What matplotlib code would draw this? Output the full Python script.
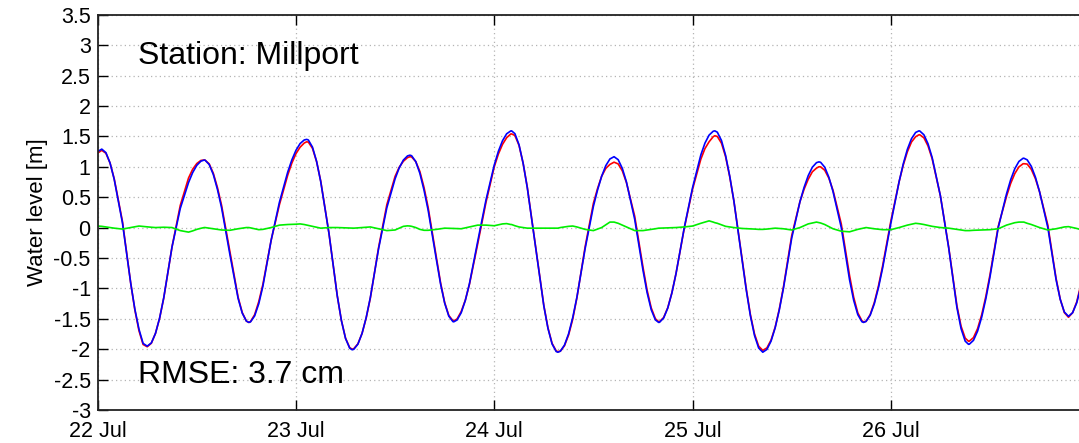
import matplotlib
matplotlib.use("Agg")
import matplotlib.pyplot as plt
from matplotlib.ticker import FuncFormatter

# time in hours from 22 Jul 00:00 (rows grouped by 10 h blocks)
HOURS = [
    0, 0.5, 1, 1.5, 2, 3, 4, 4.5, 5, 5.5, 6, 6.5, 7, 7.5, 8, 9,
    10, 11, 11.5, 12, 12.5, 12.9, 13, 13.5, 14, 14.5, 15, 16, 17, 17.5, 18, 18.3, 18.5, 19, 19.5,
    20, 21, 22, 23, 23.5, 24, 24.5, 25, 25.3, 25.5, 26, 26.5, 27, 28, 29, 29.5,
    30, 30.5, 30.8, 31, 31.5, 32, 32.5, 33, 34, 35, 36, 36.5, 37, 37.5, 37.8, 38, 38.5, 39, 39.5,
    40, 41, 41.5, 42, 42.5, 43, 43.1, 43.5, 44, 44.5, 45, 46, 47, 48, 48.5, 49, 49.5,
    50, 50.1, 50.5, 51, 51.5, 52, 53, 54, 54.5, 55, 55.5, 55.7, 56, 56.5, 57, 57.5, 58, 59,
    60, 60.5, 61, 61.5, 62, 62.5, 63, 63.5, 64, 65, 66, 66.5, 67, 67.5, 67.9, 68, 68.5, 69, 69.5,
    70, 71, 72, 73, 73.5, 74, 74.5, 74.7, 75, 75.5, 76, 76.5, 77, 78, 78.5, 79, 79.5,
    80, 80.5, 81, 81.5, 82, 82.5, 83, 84, 85, 85.5, 86, 86.5, 87, 87.3, 87.5, 88, 88.5, 89,
    90, 91, 91.5, 92, 92.5, 92.7, 93, 93.5, 94, 94.5, 95, 96, 97, 97.5, 98, 98.5, 99, 99.4, 99.5,
    100, 100.5, 101, 102, 103, 104, 104.5, 105, 105.4, 105.5, 106, 106.5, 107, 107.5, 108, 109,
    110, 110.5, 111, 111.5, 112, 112.1, 112.5, 113, 113.5, 114, 115, 116, 116.5, 117, 117.5, 118, 118.5, 119,
]

# model water level (blue), m
MODEL = [
    1.25, 1.29, 1.232, 1.062, 0.795, 0.078, -0.913, -1.340, -1.671, -1.905, -1.95, -1.897, -1.740, -1.488, -1.154, -0.319,
    0.315, 0.740, 0.904, 1.023, 1.092, 1.11, 1.108, 1.037, 0.872, 0.627, 0.325, -0.439, -1.166, -1.407, -1.538, -1.56, -1.551, -1.453, -1.253,
    -0.964, -0.207, 0.416, 0.910, 1.111, 1.270, 1.381, 1.440, 1.45, 1.440, 1.323, 1.088, 0.754, -0.098, -1.122, -1.529,
    -1.823, -1.982, -2.01, -2.002, -1.917, -1.741, -1.481, -1.153, -0.349, 0.326, 0.802, 0.982, 1.110, 1.178, 1.19, 1.181, 1.085, 0.891, 0.615,
    0.285, -0.530, -0.925, -1.243, -1.457, -1.547, -1.55, -1.520, -1.401, -1.198, -0.922, -0.227, 0.454, 1.028, 1.254, 1.428, 1.542,
    1.589, 1.59, 1.544, 1.361, 1.054, 0.654, -0.321, -1.290, -1.658, -1.914, -2.039, -2.05, -2.033, -1.933, -1.746, -1.480, -1.148, -0.346,
    0.349, 0.616, 0.844, 1.018, 1.128, 1.165, 1.116, 0.973, 0.749, 0.135, -0.700, -1.070, -1.351, -1.518, -1.56, -1.558, -1.488, -1.324, -1.075,
    -0.756, 0.0, 0.655, 1.193, 1.388, 1.520, 1.584, 1.59, 1.568, 1.432, 1.186, 0.846, 0.440, -0.531, -1.025, -1.450, -1.775,
    -1.980, -2.05, -2.004, -1.868, -1.648, -1.355, -0.999, -0.174, 0.426, 0.661, 0.854, 0.992, 1.067, 1.08, 1.073, 0.992, 0.827, 0.593,
    0.0, -0.857, -1.195, -1.432, -1.549, -1.56, -1.543, -1.441, -1.253, -0.989, -0.669, 0.071, 0.754, 1.046, 1.286, 1.462, 1.564, 1.59, 1.588,
    1.526, 1.377, 1.151, 0.520, -0.333, -1.318, -1.663, -1.868, -1.92, -1.918, -1.855, -1.703, -1.471, -1.169, -0.811, 0.0,
    0.553, 0.785, 0.967, 1.087, 1.139, 1.14, 1.114, 1.007, 0.828, 0.588, 0.0, -0.858, -1.181, -1.389, -1.46, -1.40, -1.237, -0.97,
]

# observed water level (red), m
OBSERVED = [
    1.225, 1.27, 1.222, 1.062, 0.805, 0.103, -0.913, -1.352, -1.696, -1.923, -1.96, -1.902, -1.740, -1.490, -1.159, -0.319,
    0.365, 0.815, 0.959, 1.053, 1.104, 1.11, 1.108, 1.047, 0.892, 0.657, 0.365, -0.394, -1.146, -1.397, -1.538, -1.56, -1.546, -1.433, -1.218,
    -0.934, -0.207, 0.376, 0.860, 1.059, 1.215, 1.321, 1.390, 1.41, 1.405, 1.303, 1.083, 0.764, -0.098, -1.122, -1.527,
    -1.818, -1.974, -2.00, -1.992, -1.912, -1.741, -1.486, -1.163, -0.329, 0.376, 0.842, 0.992, 1.090, 1.150, 1.165, 1.161, 1.085, 0.921, 0.660,
    0.330, -0.500, -0.905, -1.233, -1.445, -1.532, -1.535, -1.503, -1.381, -1.193, -0.932, -0.267, 0.414, 0.998, 1.209, 1.368, 1.477,
    1.539, 1.54, 1.514, 1.351, 1.054, 0.664, -0.311, -1.280, -1.648, -1.904, -2.029, -2.04, -2.033, -1.943, -1.766, -1.505, -1.158, -0.316,
    0.399, 0.641, 0.844, 0.973, 1.038, 1.075, 1.046, 0.933, 0.739, 0.185, -0.650, -1.030, -1.321, -1.498, -1.55, -1.548, -1.480, -1.319, -1.073,
    -0.756, -0.01, 0.630, 1.123, 1.298, 1.410, 1.494, 1.51, 1.498, 1.387, 1.166, 0.836, 0.440, -0.516, -1.007, -1.430, -1.750,
    -1.950, -2.02, -1.979, -1.850, -1.638, -1.340, -0.979, -0.134, 0.426, 0.631, 0.794, 0.917, 0.977, 1.00, 0.998, 0.942, 0.812, 0.613,
    0.06, -0.787, -1.145, -1.402, -1.534, -1.55, -1.543, -1.431, -1.233, -0.961, -0.634, 0.106, 0.754, 1.026, 1.246, 1.407, 1.494, 1.525, 1.526,
    1.476, 1.342, 1.131, 0.520, -0.323, -1.288, -1.623, -1.818, -1.87, -1.868, -1.810, -1.661, -1.431, -1.131, -0.776, 0.02,
    0.513, 0.725, 0.887, 0.997, 1.049, 1.05, 1.044, 0.957, 0.803, 0.588, 0.04, -0.838, -1.176, -1.399, -1.475, -1.40, -1.222, -0.935,
]

# residual (green), m
RESIDUAL = [
    0.025, 0.02, 0.01, 0.0, -0.01, -0.025, 0.0, 0.012, 0.025, 0.018, 0.01, 0.005, 0.0, 0.002, 0.005, 0.0,
    -0.05, -0.075, -0.055, -0.03, -0.012, 0.0, 0.0, -0.01, -0.02, -0.03, -0.04, -0.045, -0.02, -0.01, 0.0, 0.0, -0.005, -0.02, -0.035,
    -0.03, 0.0, 0.04, 0.05, 0.052, 0.055, 0.06, 0.05, 0.04, 0.035, 0.02, 0.005, -0.01, 0.0, 0.0, -0.002,
    -0.005, -0.008, -0.01, -0.01, -0.005, 0.0, 0.005, 0.01, -0.02, -0.05, -0.04, -0.01, 0.02, 0.028, 0.025, 0.02, 0.0, -0.03, -0.045,
    -0.045, -0.03, -0.02, -0.01, -0.012, -0.015, -0.015, -0.017, -0.02, -0.005, 0.01, 0.04, 0.04, 0.03, 0.045, 0.06, 0.065,
    0.05, 0.05, 0.03, 0.01, 0.0, -0.01, -0.01, -0.01, -0.01, -0.01, -0.01, -0.01, 0.0, 0.01, 0.02, 0.025, 0.01, -0.03,
    -0.05, -0.025, 0.0, 0.045, 0.09, 0.09, 0.07, 0.04, 0.01, -0.05, -0.05, -0.04, -0.03, -0.02, -0.01, -0.01, -0.008, -0.005, -0.002,
    0.0, 0.01, 0.025, 0.07, 0.09, 0.11, 0.09, 0.08, 0.07, 0.045, 0.02, 0.01, 0.0, -0.015, -0.018, -0.02, -0.025,
    -0.03, -0.03, -0.025, -0.018, -0.01, -0.015, -0.02, -0.04, 0.0, 0.03, 0.06, 0.075, 0.09, 0.08, 0.075, 0.05, 0.015, -0.02,
    -0.06, -0.07, -0.05, -0.03, -0.015, -0.01, 0.0, -0.01, -0.02, -0.028, -0.035, -0.035, 0.0, 0.02, 0.04, 0.055, 0.07, 0.065, 0.062,
    0.05, 0.035, 0.02, 0.0, -0.01, -0.03, -0.04, -0.05, -0.05, -0.05, -0.045, -0.042, -0.04, -0.038, -0.035, -0.02,
    0.04, 0.06, 0.08, 0.09, 0.09, 0.09, 0.07, 0.05, 0.025, 0.0, -0.04, -0.02, -0.005, 0.01, 0.015, 0.0, -0.015, -0.035,
]

DAY_LABELS = ["22 Jul", "23 Jul", "24 Jul", "25 Jul", "26 Jul"]
Y_TICKS = [-3, -2.5, -2, -1.5, -1, -0.5, 0, 0.5, 1, 1.5, 2, 2.5, 3, 3.5]

STATION = "Station: Millport"
RMSE_TEXT = "RMSE: 3.7 cm"


def main():
    plt.rcParams["font.family"] = ["Liberation Sans", "DejaVu Sans"]
    plt.rcParams["axes.unicode_minus"] = False

    fig = plt.figure(figsize=(10.79, 4.43), dpi=100)
    ax = fig.add_axes([0.0905, 0.0745, 0.9189, 0.8923])

    days = [h / 24.0 for h in HOURS]
    ax.plot(days, OBSERVED, color="#ff0000", lw=1.2)
    ax.plot(days, MODEL, color="#0000ff", lw=1.2)
    ax.plot(days, RESIDUAL, color="#00ee00", lw=1.2)

    ax.set_xlim(0, 5)
    ax.set_ylim(-3, 3.5)
    ax.set_xticks(range(len(DAY_LABELS)))
    ax.set_xticklabels(DAY_LABELS)
    ax.set_yticks(Y_TICKS)
    ax.yaxis.set_major_formatter(FuncFormatter(lambda v, _: f"{v:g}"))

    ax.grid(True, color="#b4b4b4", linestyle=(0, (1, 2.5)), linewidth=0.9)
    ax.tick_params(direction="in", length=7, width=1, top=True, right=True,
                   labelsize=15.5, colors="#000000")
    ax.tick_params(axis="y", pad=5)
    ax.tick_params(axis="x", pad=8)
    for spine in ax.spines.values():
        spine.set_linewidth(1.3)
        spine.set_color("#222222")

    ax.set_ylabel("Water level [m]", fontsize=16, labelpad=4)

    ax.text(0.205, 2.69, STATION, fontsize=23, va="baseline", ha="left")
    ax.text(0.205, -2.553, RMSE_TEXT, fontsize=23, va="baseline", ha="left")

    fig.savefig("out.png", dpi=100)


if __name__ == "__main__":
    main()
